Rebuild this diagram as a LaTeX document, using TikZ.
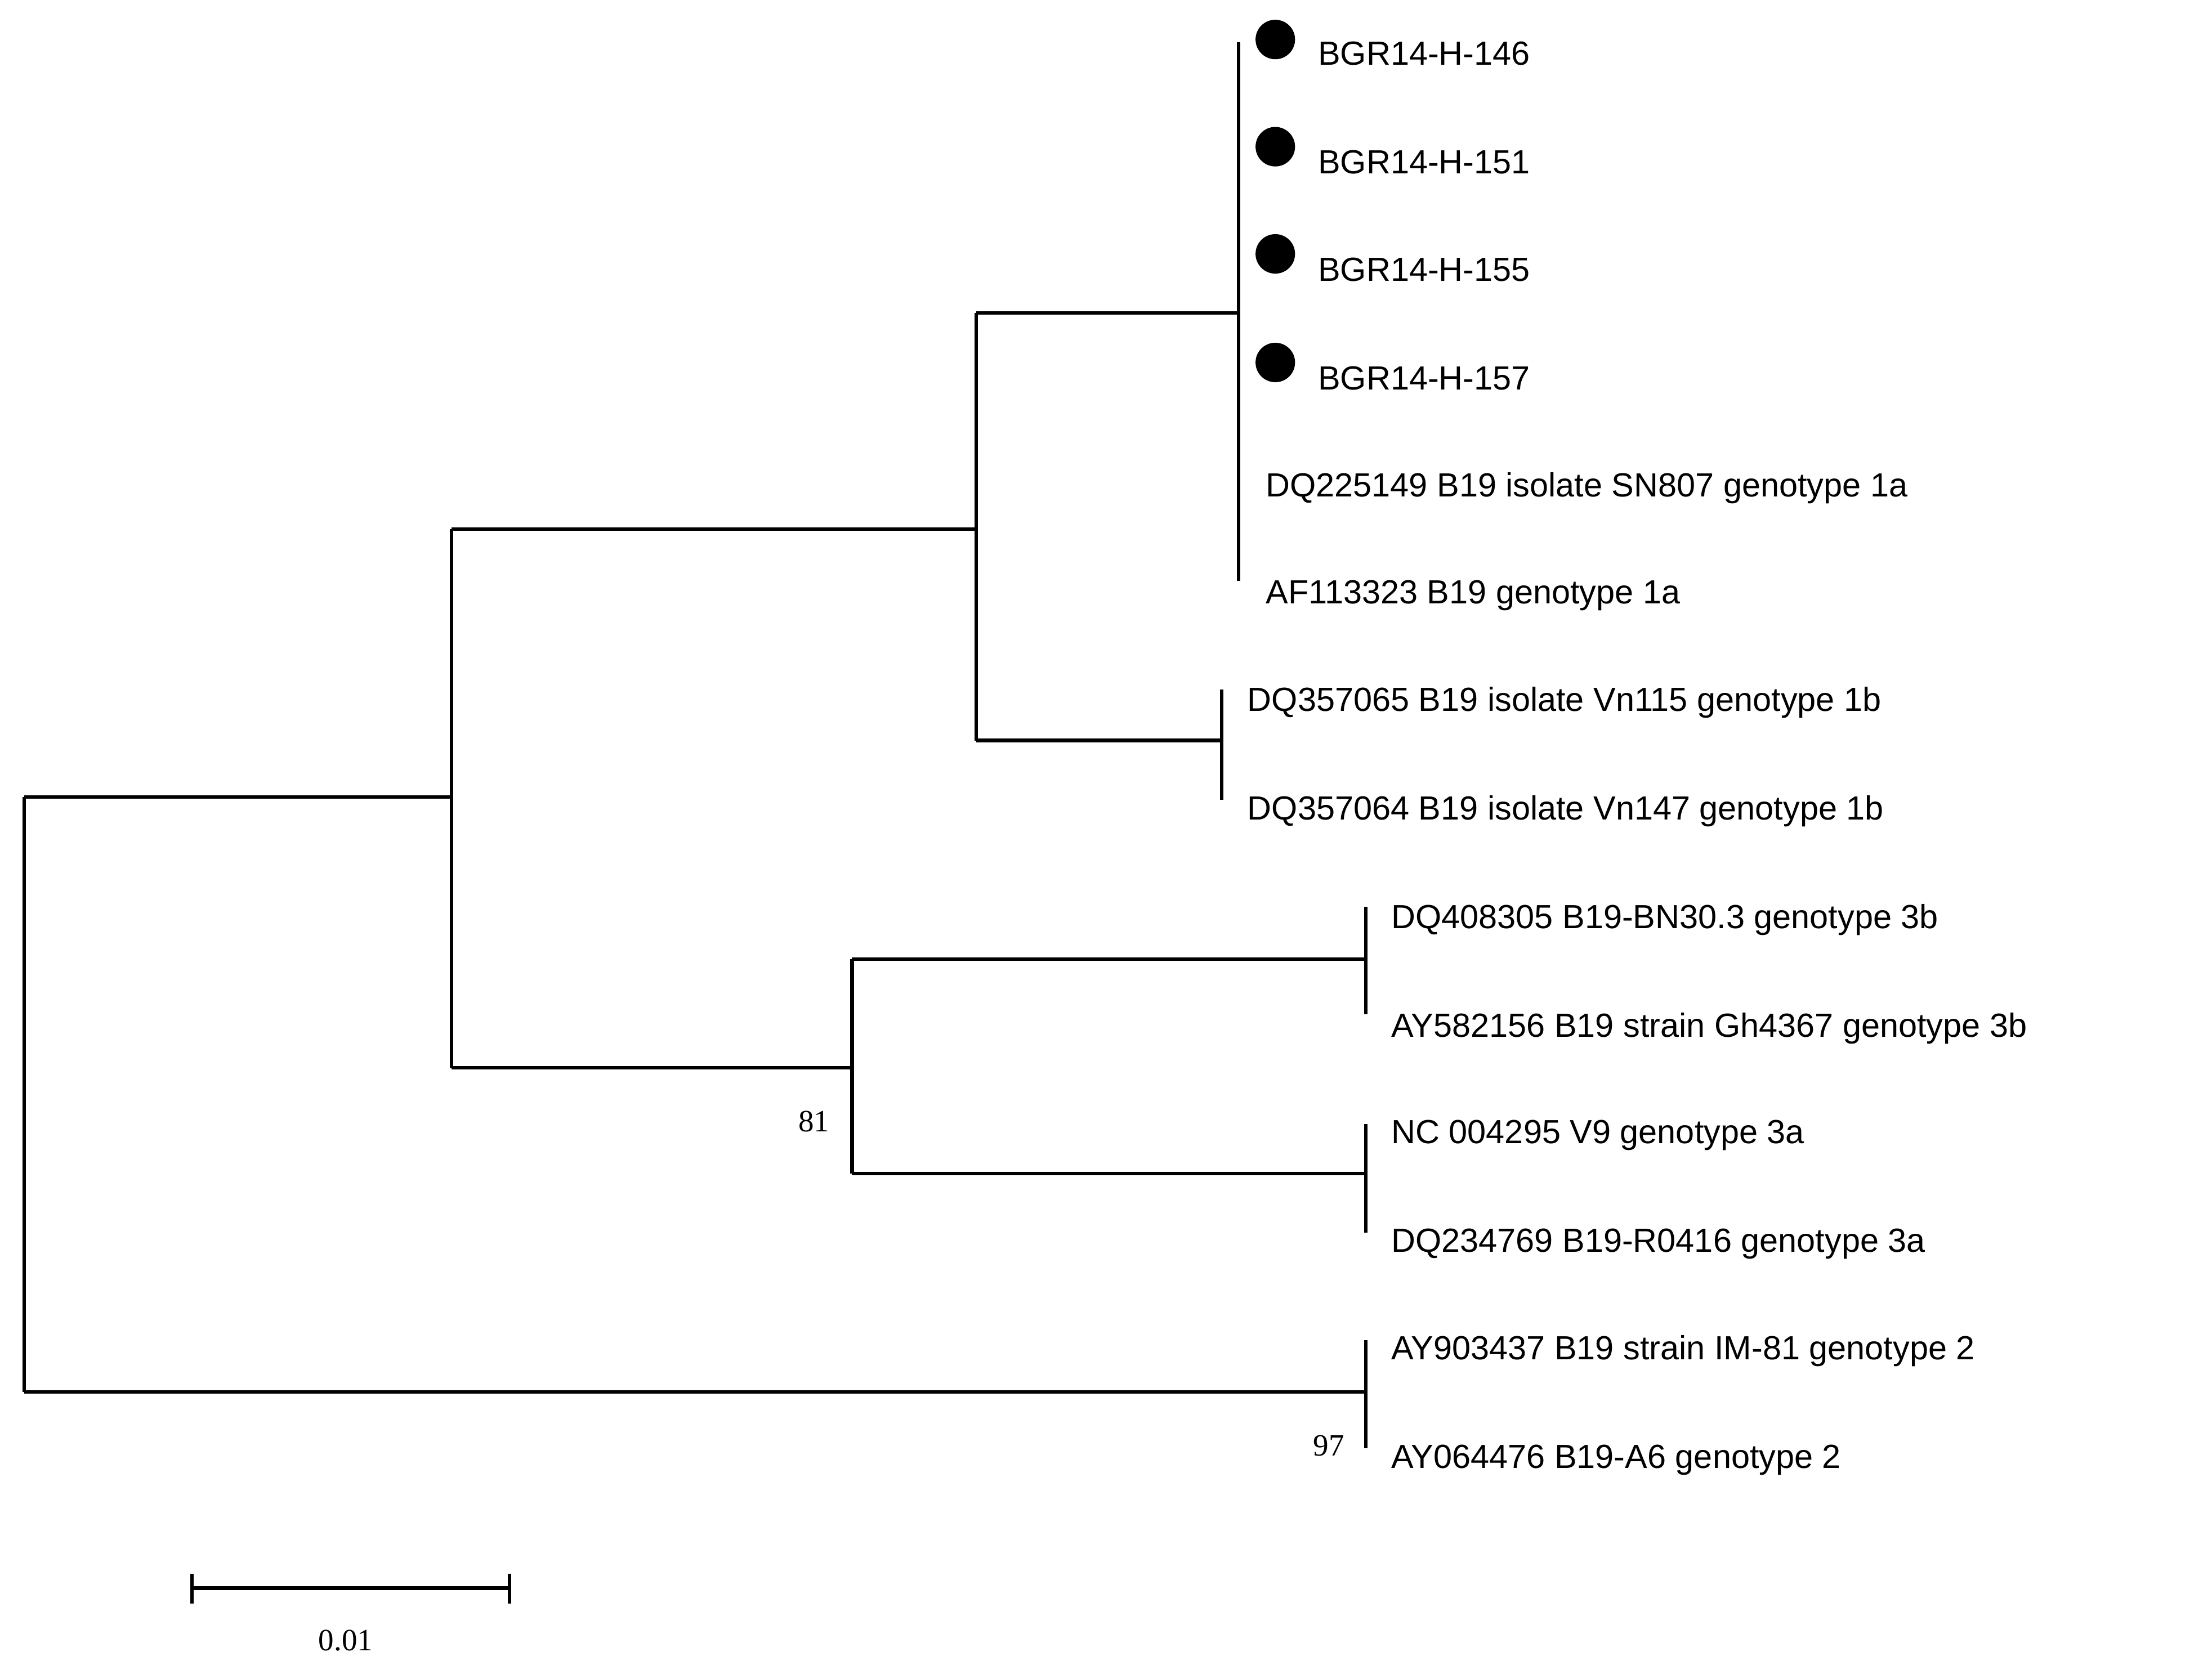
\documentclass[tikz,border=0pt]{standalone}
\usepackage{fontspec}
\setmainfont{Liberation Sans}
\newfontfamily\timesf{Liberation Serif}
\begin{document}
\begin{tikzpicture}[x=0.02cm,y=-0.02cm,
  br/.style={line width=1.4pt},
  lab/.style={anchor=west,inner sep=0pt,font=\fontsize{13.5}{15}\selectfont},
  boot/.style={inner sep=0pt,font=\timesf\fontsize{12.5}{14}\selectfont},
  dot/.style={circle,fill=black,inner sep=0pt,minimum size=0.56cm}]
\useasboundingbox (0,0) rectangle (1568,1184);
% internal nodes
\coordinate (R1) at (17,565); \coordinate (R2) at (17,987);
\coordinate (A1) at (320,375); \coordinate (A2) at (320,757);
\coordinate (B1) at (692,222); \coordinate (B2) at (692,525);
\coordinate (C1) at (878,30); \coordinate (C2) at (878,412);
\coordinate (D1) at (866,489); \coordinate (D2) at (866,567);
\coordinate (E1) at (604,680); \coordinate (E2) at (604,832);
\coordinate (F1) at (968,643); \coordinate (F2) at (968,719);
\coordinate (G1) at (968,797); \coordinate (G2) at (968,874);
\coordinate (H1) at (968,950); \coordinate (H2) at (968,1027);
\draw[br] (R1) -- (R2);
\draw[br] (R1) -- (320,565);
\draw[br] (R2) -- (968,987);
\draw[br] (A1) -- (A2);
\draw[br] (A1) -- (692,375);
\draw[br] (A2) -- (604,757);
\draw[br] (B1) -- (B2);
\draw[br] (B1) -- (878,222);
\draw[br] (B2) -- (866,525);
\draw[br] (C1) -- (C2);
\draw[br] (D1) -- (D2);
\draw[br] (E1) -- (E2);
\draw[br] (E1) -- (968,680);
\draw[br] (E2) -- (968,832);
\draw[br] (F1) -- (F2);
\draw[br] (G1) -- (G2);
\draw[br] (H1) -- (H2);
% dots
\node[dot] (d1) at (904,28) {};
\node[dot] (d2) at (904,104) {};
\node[dot] (d3) at (904,180) {};
\node[dot] (d4) at (904,257) {};
% labels
\node[lab] (l1) at (934,38) {BGR14-H-146};
\node[lab] (l2) at (934,115) {BGR14-H-151};
\node[lab] (l3) at (934,191) {BGR14-H-155};
\node[lab] (l4) at (934,268) {BGR14-H-157};
\node[lab] (l5) at (897,346) {DQ225149 B19 isolate SN807 genotype 1a};
\node[lab] (l6) at (897,422) {AF113323 B19 genotype 1a};
\node[lab] (l7) at (884,498) {DQ357065 B19 isolate Vn115 genotype 1b};
\node[lab] (l8) at (884,575) {DQ357064 B19 isolate Vn147 genotype 1b};
\node[lab] (l9) at (986,652) {DQ408305 B19-BN30.3 genotype 3b};
\node[lab] (l10) at (986,729) {AY582156 B19 strain Gh4367 genotype 3b};
\node[lab] (l11) at (986,805) {NC 004295 V9 genotype 3a};
\node[lab] (l12) at (986,882) {DQ234769 B19-R0416 genotype 3a};
\node[lab] (l13) at (986,958) {AY903437 B19 strain IM-81 genotype 2};
\node[lab] (l14) at (986,1035) {AY064476 B19-A6 genotype 2};
\node[boot] (b81) at (577,795) {81};
\node[boot] (b97) at (942,1025) {97};
% scale bar
\coordinate (s1) at (136,1126); \coordinate (s2) at (361,1126);
\draw[br] (s1) -- (s2);
\draw[br] (136,1116) -- (136,1137);
\draw[br] (361,1116) -- (361,1137);
\node[boot] (sl) at (245,1163) {0.01};
\end{tikzpicture}
\end{document}
